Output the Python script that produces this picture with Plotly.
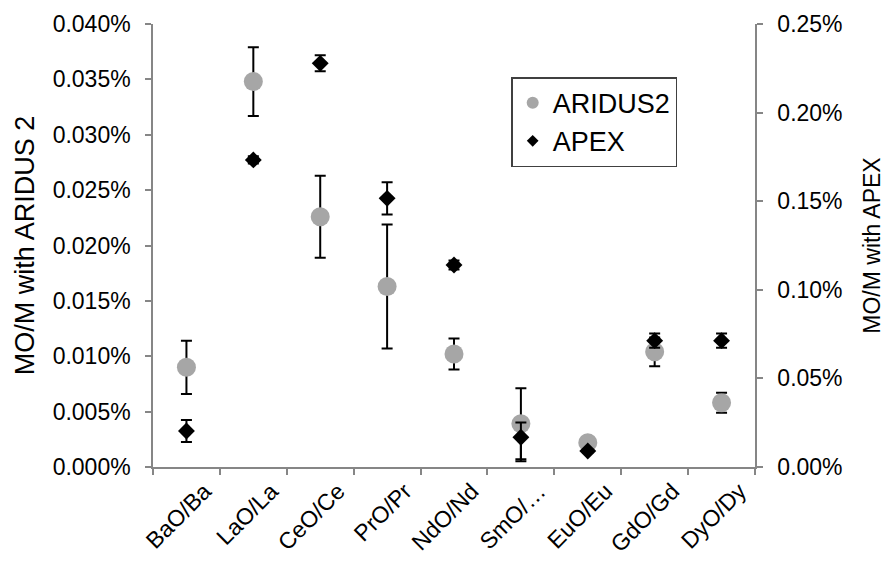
import plotly.graph_objects as go

categories = ["BaO/Ba", "LaO/La", "CeO/Ce", "PrO/Pr", "NdO/Nd", "SmO/…", "EuO/Eu", "GdO/Gd", "DyO/Dy"]

# MO/M with ARIDUS 2 (values in %)
aridus = [0.0090, 0.0348, 0.0226, 0.0163, 0.0102, 0.0039, 0.0022, 0.0104, 0.0058]
aridus_err = [0.0024, 0.0031, 0.0037, 0.0056, 0.0014, 0.0032, 0.0002, 0.0013, 0.0009]

# MO/M with APEX (values in %)
apex = [0.0203, 0.1733, 0.2278, 0.1516, 0.1140, 0.0168, 0.0090, 0.0713, 0.0713]
apex_err_plus = [0.0062, 0.0020, 0.0045, 0.0091, 0.0025, 0.0083, 0.0010, 0.0040, 0.0040]
apex_err_minus = [0.0062, 0.0020, 0.0045, 0.0091, 0.0025, 0.0135, 0.0010, 0.0040, 0.0040]

FONT = "Arial, Liberation Sans, sans-serif"
AXIS = "#868686"

fig = go.Figure()

fig.add_trace(go.Scatter(
    x=categories, y=aridus, mode="markers", name="ARIDUS2", showlegend=False,
    marker=dict(symbol="circle", size=19, color="#a6a6a6"),
    error_y=dict(type="data", array=aridus_err, color="black", thickness=2, width=5.5),
    yaxis="y",
))
fig.add_trace(go.Scatter(
    x=categories, y=apex, mode="markers", name="APEX", showlegend=False,
    marker=dict(symbol="diamond", size=13, color="black"),
    error_y=dict(type="data", array=apex_err_plus, arrayminus=apex_err_minus,
                 color="black", thickness=2, width=5.5),
    yaxis="y2",
))
# legend entries
fig.add_trace(go.Scatter(x=[None], y=[None], mode="markers", name="ARIDUS2",
                         marker=dict(symbol="circle", size=12, color="#a6a6a6")))
fig.add_trace(go.Scatter(x=[None], y=[None], mode="markers", name="APEX",
                         marker=dict(symbol="diamond", size=9, color="black")))

fig.update_layout(
    width=890, height=561,
    margin=dict(l=153, r=135, t=24, b=94),
    paper_bgcolor="white", plot_bgcolor="white",
    font=dict(family=FONT, size=23, color="black"),
    xaxis=dict(
        type="category", showgrid=False, showline=True, linecolor=AXIS, linewidth=1.5,
        ticks="outside", tickson="boundaries", ticklen=6, tickcolor=AXIS, tickwidth=1.5,
        tickangle=-45, tickfont=dict(size=23), range=[-0.5, 8.5],
        ticklabelshift=18, automargin=False,
    ),
    yaxis=dict(
        range=[0, 0.04], dtick=0.005, tickformat=".3f", ticksuffix="%",
        showgrid=False, zeroline=False, showline=True, linecolor=AXIS, linewidth=1.5,
        ticks="outside", ticklen=6, tickcolor=AXIS, tickwidth=1.5,
        ticklabelstandoff=10, automargin=False,
        title=dict(text="MO/M with ARIDUS 2", font=dict(size=27), standoff=10),
        tickfont=dict(size=23),
    ),
    yaxis2=dict(
        range=[0, 0.25], dtick=0.05, tickformat=".2f", ticksuffix="%",
        overlaying="y", side="right",
        showgrid=False, zeroline=False, showline=True, linecolor=AXIS, linewidth=1.5,
        ticks="outside", ticklen=6, tickcolor=AXIS, tickwidth=1.5,
        ticklabelstandoff=10, automargin=False,
        title=dict(text="MO/M with APEX", font=dict(size=23), standoff=22),
        tickfont=dict(size=23),
    ),
    legend=dict(
        x=0.595, y=0.88, xanchor="left", yanchor="top",
        bgcolor="white", bordercolor="#404040", borderwidth=1.5,
        font=dict(size=27), itemwidth=30, tracegroupgap=0,
    ),
    showlegend=True,
)

fig.write_html("out.html")
